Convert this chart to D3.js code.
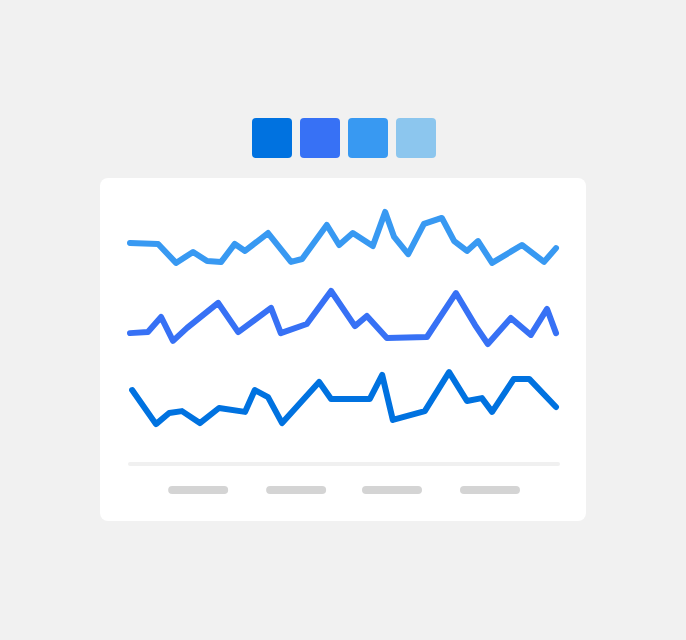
<!DOCTYPE html>
<html>
<head>
<meta charset="utf-8">
<script src="https://cdn.jsdelivr.net/npm/d3@7"></script>
<style>
  html, body { margin: 0; padding: 0; background: #f1f1f1; }
  svg { display: block; }
</style>
</head>
<body>
<svg id="chart" width="686" height="640"></svg>
<script>
// ---- Data ----
const seriesNames = ["Series A", "Series B", "Series C", "Series D"];
const seriesColors = ["#0072e0", "#3771f5", "#3899f2", "#8cc6ee"];

const seriesA = [ // bottom line
  [0.5, 26.9], [6.1, 13.8], [9.2, 18.1], [12.2, 18.8], [16.4, 14.2], [20.9, 20.0],
  [27.0, 18.5], [29.3, 26.9], [32.4, 24.2], [35.7, 14.2], [44.4, 30.0], [47.2, 23.5],
  [56.3, 23.5], [59.2, 32.7], [61.7, 15.4], [69.2, 18.8], [74.9, 33.8], [79.1, 22.7],
  [82.6, 23.8], [85.0, 18.5], [90.1, 31.2], [93.7, 31.2], [100, 20.4]
];
const seriesB = [ // middle line
  [0, 48.8], [4.2, 49.2], [7.3, 55.0], [10.1, 45.8], [13.4, 50.8], [20.7, 60.4],
  [25.4, 49.2], [33.1, 58.5], [35.4, 48.8], [41.5, 52.3], [47.2, 65.0], [52.8, 51.5],
  [55.6, 55.4], [60.3, 46.9], [69.7, 47.3], [76.5, 64.2], [81.0, 51.9], [84.0, 44.6],
  [89.4, 54.6], [94.1, 48.1], [97.9, 58.1], [100, 48.8]
];
const seriesC = [ // top line
  [0, 83.5], [6.6, 83.1], [10.8, 75.8], [14.8, 80.0], [18.1, 76.5], [21.4, 76.2],
  [24.6, 83.1], [27.0, 80.4], [32.4, 87.3], [37.8, 76.2], [40.4, 77.3], [46.2, 90.4],
  [49.1, 82.7], [52.3, 87.3], [57.0, 82.3], [59.9, 95.4], [62.0, 85.8], [65.3, 79.2],
  [69.0, 90.8], [73.2, 93.1], [76.1, 84.2], [79.1, 80.4], [81.7, 84.2], [85.0, 75.8],
  [92.0, 82.7], [97.2, 76.2], [100, 81.5]
];
const tickValues = [16, 39, 61.5, 84.5];
const tickLabels = ["", "", "", ""]; // placeholder pills, no text

// ---- Layout ----
const svg = d3.select("#chart");
const W = 686, H = 640;

svg.append("rect").attr("width", W).attr("height", H).attr("fill", "#f1f1f1");

// Legend swatches
const legendX = d3.scalePoint().domain(seriesNames).range([252, 396]);
svg.append("g").selectAll("rect").data(seriesNames).join("rect")
  .attr("x", d => legendX(d))
  .attr("y", 118)
  .attr("width", 40)
  .attr("height", 40)
  .attr("rx", 4)
  .attr("fill", (d, i) => seriesColors[i]);

// Card
svg.append("rect")
  .attr("x", 100).attr("y", 178).attr("width", 486).attr("height", 343)
  .attr("rx", 8).attr("fill", "#ffffff");

// Scales
const x = d3.scaleLinear().domain([0, 100]).range([130, 556]);
const y = d3.scaleLinear().domain([0, 100]).range([460, 200]);

// Baseline
svg.append("line")
  .attr("x1", 130).attr("x2", 558)
  .attr("y1", 464).attr("y2", 464)
  .attr("stroke", "#f0f0f0").attr("stroke-width", 4).attr("stroke-linecap", "round");

// Tick placeholder pills
svg.append("g").selectAll("line").data(tickValues).join("line")
  .attr("x1", d => x(d) - 26).attr("x2", d => x(d) + 26)
  .attr("y1", 490).attr("y2", 490)
  .attr("stroke", "#d4d4d4").attr("stroke-width", 8).attr("stroke-linecap", "round");

// Lines
const line = d3.line().x(d => x(d[0])).y(d => y(d[1]));
const lines = [
  { data: seriesC, color: seriesColors[2] },
  { data: seriesB, color: seriesColors[1] },
  { data: seriesA, color: seriesColors[0] }
];
svg.append("g").selectAll("path").data(lines).join("path")
  .attr("d", d => line(d.data))
  .attr("fill", "none")
  .attr("stroke", d => d.color)
  .attr("stroke-width", 6)
  .attr("stroke-linejoin", "round")
  .attr("stroke-linecap", "round");
</script>
</body>
</html>
